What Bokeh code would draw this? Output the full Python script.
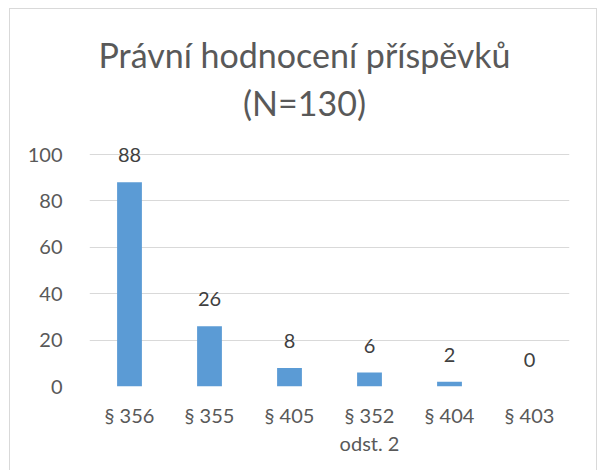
from bokeh.plotting import figure
from bokeh.models import ColumnDataSource, Label, LabelSet, Range1d, FixedTicker, InlineStyleSheet
from bokeh.core.properties import value
from bokeh.embed import file_html
from bokeh.resources import INLINE

categories = ["§ 356", "§ 355", "§ 405", "§ 352\nodst. 2", "§ 404", "§ 403"]
counts = [88, 26, 8, 6, 2, 0]
labels = [str(c) for c in counts]
y_ticks = [0, 20, 40, 60, 80, 100]
title_line1 = "Právní hodnocení příspěvků"
title_line2 = "(N=130)"

FONT = "Lato"
TXT = "#595959"

# frame extends over the title area: 100 units = 232 px, frame height 377 px
Y_END = 100 * 377 / 232

src = ColumnDataSource(dict(cat=categories, val=counts, lab=labels))

p = figure(x_range=categories, y_range=Range1d(0, Y_END), width=588, height=464,
           output_backend="svg", toolbar_location=None,
           min_border_left=79, min_border_right=29, min_border_bottom=87, min_border_top=0)
p.margin = (8, 0, 0, 9)
p.title = None

for txt, yy in ((title_line1, 332), (title_line2, 284)):
    p.add_layout(Label(x=215, y=yy, x_units="screen", y_units="screen", text=txt,
                       text_align="center", text_baseline="middle", text_font=FONT,
                       text_font_size="34px", text_color=TXT))

p.vbar(x="cat", top="val", width=0.31, source=src, fill_color="#5B9BD5", line_color=None)
p.add_layout(LabelSet(x="cat", y="val", text="lab", source=src, text_align="center",
                      text_baseline="bottom", y_offset=20, text_font=value(FONT),
                      text_font_size="20px", text_color="#404040"))

p.outline_line_color = None
p.xgrid.grid_line_color = None
p.ygrid.grid_line_color = "#d9d9d9"
p.ygrid.grid_line_width = 1
p.yaxis.ticker = FixedTicker(ticks=y_ticks)
for ax in (p.xaxis[0], p.yaxis[0]):
    ax.axis_line_color = None
    ax.major_tick_line_color = None
    ax.minor_tick_line_color = None
    ax.major_label_text_font = FONT
    ax.major_label_text_font_size = "20px"
    ax.major_label_text_color = TXT
p.xaxis.major_label_standoff = 10
p.yaxis.major_label_standoff = 21
p.stylesheets = [InlineStyleSheet(css=":host { border: 1px solid #d9d9d9; }")]

open("out.html", "w").write(file_html(p, INLINE))
